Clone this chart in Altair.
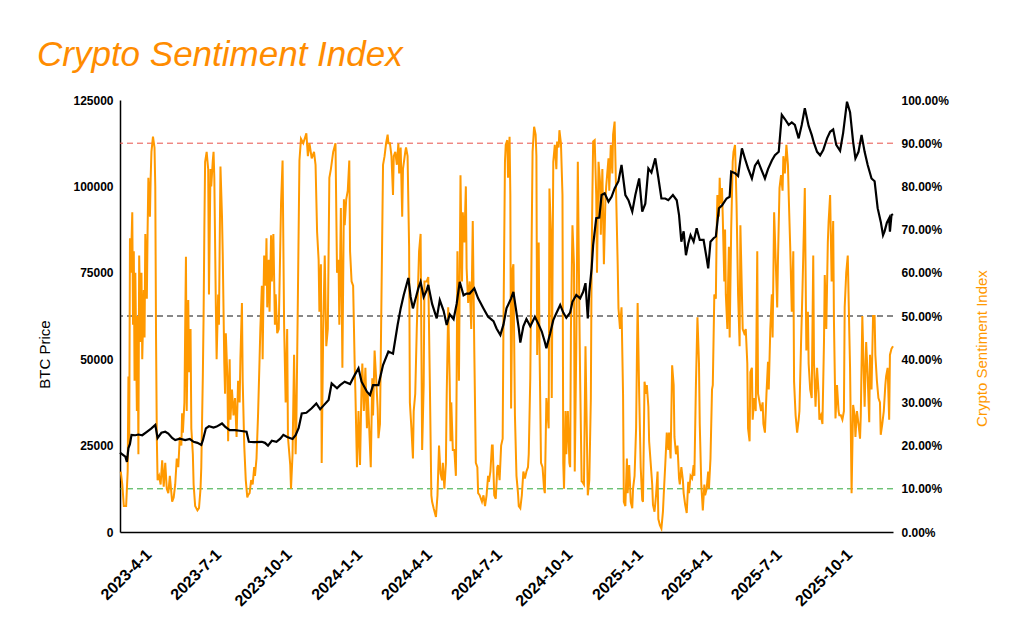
import altair as alt
import pandas as pd
import numpy as np

START = "2023-03-01"

# Crypto sentiment index (days since 2023-03-01, percent)
fg_day = [1,3,5,8,10,11,12,13,14,16,17,18,19,20,22,23,24,25,27,28,29,31,32,33,35,36,37,39,40,41,43,45,46,47,48,49,51,53,55,57,59,61,63,65,67,68,70,72,74,76,78,80,81,82,84,86,87,89,90,92,93,95,96,98,101,103,105,106,108,109,110,111,113,114,115,116,118,119,121,122,123,125,126,128,129,131,133,134,136,137,138,140,141,143,144,146,148,150,152,154,156,157,159,160,162,164,166,167,169,171,173,175,176,178,180,182,183,185,186,187,188,190,191,192,194,195,197,198,
          200,202,203,205,207,210,212,214,216,218,219,222,223,225,227,229,230,232,234,236,239,243,245,247,250,253,255,257,259,260,262,263,265,267,269,271,273,275,278,281,283,285,286,288,290,292,293,295,297,299,300,302,304,306,307,309,311,313,315,316,318,320,322,323,325,327,329,330,332,334,336,337,339,341,343,345,347,349,350,352,354,356,357,359,361,363,364,366,368,369,372,373,375,377,378,380,382,383,385,387,389,390,392,394,396,397,400,402,
          404,406,407,409,412,414,416,418,420,421,423,425,426,428,430,431,432,434,436,438,439,440,442,444,446,447,449,451,452,454,456,458,460,462,464,466,467,469,472,474,476,478,480,481,483,485,486,488,490,492,493,495,497,499,500,502,503,505,506,508,509,510,512,513,515,517,519,520,522,524,526,528,530,532,533,535,537,538,540,542,543,544,546,547,549,551,553,554,556,559,560,562,563,565,567,569,570,572,573,575,577,578,579,581,582,584,586,587,588,590,592,593,595,597,599,600,602,
          603,605,607,609,610,612,614,615,616,617,619,621,622,624,626,627,629,631,633,634,637,638,640,642,643,645,647,649,650,652,654,656,657,659,661,662,664,666,668,669,671,673,674,675,677,679,681,682,684,686,687,689,690,692,694,695,697,699,701,702,704,706,708,709,711,713,715,716,718,720,722,723,725,727,729,730,732,734,735,737,739,741,742,744,746,748,749,751,753,755,756,758,760,762,763,765,767,768,770,772,773,775,777,778,779,781,782,783,785,786,788,789,790,792,793,794,795,797,799,800,802,803,804,
          806,808,809,811,812,814,816,818,819,821,822,824,825,827,829,831,832,834,836,838,839,841,843,845,846,848,850,851,853,855,857,858,860,862,864,865,867,869,871,872,874,876,878,879,881,883,885,886,888,890,892,893,895,897,898,900,902,904,905,907,909,911,912,914,916,918,919,921,923,924,926,928,930,931,933,935,937,938,940,942,944,945,947,949,951,952,954,956,958,959,961,963,965,966,968,970,971,973,975,977,978,980,982,984,985,987,989,991,992,994,996,998,999,1001,1003,1004,1006,1008]
fg_pct = [14,11,6,6,14,36,20,68,60,74,48,65,35,60,28,50,18,64,44,60,40,56,45,69,54,70,82,73,82,88,91.5,89,80,45,22,12,13,11,16.6,10.5,16,10,9,13,9,7,8,11,17,15,22,20,27.5,23,30,63.7,28,53.7,37,47,24,18,11,6,5,5.5,10,15,36,50,70,85.7,88,86,84,55,84,80,86,88,82,52,40,55,48,84.6,73,64,39,32,46,36,21,40,26,33,27,31,22,35,30,40,53,35,20,12,8,8.5,9,12,11,15,13,17,27,40,47,57,40,54,64,57,68,52,63,51,68.7,58,
          69,48,55,46,47,76,86,48,30,47,22,15.5,10,18,41,18,25,55,86,91,90,92.3,87,90,86.5,88,85,69.5,63,51,62,16,47,64,43,47,82,84,88,90,60,63,48,75,38,77,71,77,79,86,65,58,57,39,32,15,28,15.5,34,39,28,38,24,32,24,15,35.6,27,42,35.6,28.6,21.7,25,55,85,87,90,92,90,90,87,78,87,88,85,90,83,89,73,84,88,89,87,66,30,24,17,28,32,47,59,65,69,19,34,58,58,59,
          35,8.5,7,5.5,3.5,8.5,20,13.5,12,16,10,16,31.6,52,34,21,30,19,19,13,35,65,35,82.6,58,74,67,80,61,53,58,47,72,42,16,15,9,8.5,7,8.5,6,8.5,13,11.6,14,20,20,8.5,7.7,15,15.5,12,20,21.6,47,85.7,89.6,90.7,82,91.5,78,28.6,61,62,27,13,9,6,5.5,8.5,14,12.4,14,15,18,35.6,71,88,93.8,92,87,41,67,44,16,15,10,9,31,24,79.5,69,31,85.7,89.6,84,90.4,89,93,90,78,16,10,28,18,28,16,15,47,71,62,14,43,85.7,51,35.6,11.7,
          11.6,11,43,20,8.5,12,31,62.6,78,90.4,90.7,78,60,85.7,81,68.8,84,62,77,80,86.5,79,89.6,83,92,95,78,61.8,51.8,47,52,31.7,7,6,17,9,15.5,7,5.5,10,13,24,39.4,53,32,15,7.4,7,34.8,32,34,29,21,16,11,6.3,4.7,8.5,14,3,1.6,0.8,4.7,8.5,15.5,23,19,23,17,38.6,34,22,18,20,12.4,11,15,12,9,6.3,4.4,11.6,9,13,12.4,15.5,13,34,49.7,39,25,11,5,11,8.5,10,14,10,17,33,34,55,54,68.8,78,73,82,76,79.6,73,58,70,55,47,58,66,45,70,85.7,88,89.6,83,75.7,
          55,43,71,55,47,46,47,39,24,21,37,38,26,31,28,65,32,30,28,30,25,23,32,39.4,33,47,55,45,74,63,52,63,79.6,82.6,79,87,83,89.6,85,78,65.7,51,65,34.8,27,23,26,28,43,56.4,71.8,79.6,42,51,39,33,31,64,39,29,38,32,26,27,25,44,59.5,47,67,71.7,78,58,72,48.7,26.3,34,28,27,27,26,28,52,60,64,46.4,38,9,29.4,27,22,28,25,21.6,27,50,36,29,44,36,25.4,41,33,50,50,41,35,31,30,22.5,25,28,34,36,38,26,41,42.4,43]

# BTC price (days since 2023-03-01, thousand USD)
btc_day = [0,7,9,11,13,15,20,24,29,35,41,46,49,54,59,63,68,72,78,85,91,96,101,106,108,112,116,122,126,133,137,143,150,156,165,168,175,185,189,193,198,204,209,213,218,225,229,233,237,243,250,256,261,265,272,276,283,287,293,300,306,311,315,322,326,330,337,343,350,356,362,366,370,376,379,382,386,389,392,396,400,402,407,413,417,422,426,430,435,439,443,448,452,456,462,467,474,480,487,491,496,500,504,510,513,516,520,522,526,530,535,541,546,550,554,556,561,565,569,574,578,582,587,590,595,600,604,607,610,612,615,617,621,625,628,632,637,641,645,650,654,659,663,668,672,677,681,685,689,693,698,702,706,711,715,721,726,729,732,735,738,741,744,748,752,756,761,765,767,770,774,777,781,785,791,795,797,802,806,811,815,819,824,828,832,837,841,845,850,854,859,863,867,872,876,880,885,889,893,898,902,905,909,913,917,922,926,930,934,939,943,948,952,956,959,963,967,971,975,980,984,988,992,995,997,1000,1003,1004,1006,1008]
btc_k = [23.0,21.8,20.3,24.3,25.5,28.1,28.0,28.2,28.0,29.0,30.0,31.0,27.2,28.7,29.0,28.5,27.2,26.6,27.0,26.6,26.9,26.1,25.8,25.2,26.5,30.0,30.6,30.2,30.5,31.4,30.5,29.5,29.5,29.3,29.0,26.1,26.0,26.1,25.8,25.0,26.4,26.1,27.0,28.1,27.5,26.9,28.0,30.1,34.3,34.5,35.8,37.2,35.5,36.5,38.2,43.0,41.6,42.5,43.5,42.8,45.4,47.4,43.5,40.6,39.6,42.5,42.5,48.3,52.2,51.6,59.9,64.7,68.6,73.5,68.0,64.7,68.0,70.5,72.4,68.0,70.0,71.5,66.0,61.8,67.1,64.0,59.9,63.0,61.6,66.0,72.4,68.5,69.0,69.0,70.5,67.6,64.7,62.3,61.0,58.9,57.0,60.0,64.7,67.6,69.5,65.0,58.9,54.8,59.5,61.6,59.5,62.3,60.0,58.0,55.0,53.2,57.5,61.3,63.3,65.7,63.5,62.0,63.5,66.6,68.6,67.6,69.5,72.0,61.8,69.5,76.3,83.0,90.8,91.0,97.5,98.0,95.6,97.0,99.4,101.5,106.2,97.5,96.0,92.7,97.5,102.3,92.7,95.0,105.2,104.0,108.1,102.5,96.5,96.5,96.0,97.5,96.0,91.7,84.0,87.0,80.1,83.5,85.9,84.0,87.9,84.5,84.5,79.2,76.3,84.0,85.0,85.5,93.7,94.5,96.5,97.0,104.3,103.8,103.0,111.0,108.0,105.2,102.3,106.0,107.3,104.5,102.3,105.0,107.5,109.0,110.0,120.7,119.5,117.8,118.5,117.8,113.9,117.8,122.6,117.5,114.9,112.5,110.0,109.0,110.5,113.9,115.8,116.5,112.0,110.3,115.5,124.5,121.5,112.9,108.1,110.0,114.9,110.0,106.2,102.3,101.5,93.7,89.8,85.9,87.0,89.5,90.8,86.9,91.7,92.0]

# Reference levels
level_names = ["Greed 90%", "Neutral 50%", "Fear 10%"]
level_values = [0.9, 0.5, 0.1]
level_colors = ["#e8514a", "#111111", "#2ea83a"]

x_ticks = [(2023, 4), (2023, 7), (2023, 10), (2024, 1), (2024, 4), (2024, 7),
           (2024, 10), (2025, 1), (2025, 4), (2025, 7), (2025, 10)]
btc_ticks = [0, 25000, 50000, 75000, 100000, 125000]
pct_ticks = [0.0, 0.1, 0.2, 0.3, 0.4, 0.5, 0.6, 0.7, 0.8, 0.9, 1.0]

start = pd.Timestamp(START)
fg_df = pd.DataFrame({
    "date": start + pd.to_timedelta(fg_day, unit="D"),
    "pct": np.array(fg_pct) / 100.0,
})
btc_df = pd.DataFrame({
    "date": start + pd.to_timedelta(btc_day, unit="D"),
    "price": np.array(btc_k) * 1000.0,
})
lvl_df = pd.DataFrame({"name": level_names, "pct": level_values})

FONT = "Liberation Sans"
ORANGE = "#ff9900"

x_enc = alt.X(
    "date:T",
    scale=alt.Scale(nice=False),
    axis=alt.Axis(
        values=[alt.DateTime(year=y, month=m, date=1) for y, m in x_ticks],
        format="%Y-%-m-%-d",
        labelAngle=315,
        labelAlign="right",
        labelBaseline="top",
        labelFontSize=16,
        labelFontWeight="bold",
        labelColor="black",
        labelPadding=14,
        labelOffset=-1,
        ticks=False,
        domainColor="black",
        domainWidth=1.5,
        grid=False,
        title=None,
        labelFont=FONT,
    ),
)

pct_axis = alt.Axis(
    orient="right",
    values=pct_ticks,
    format=".2%",
    domain=False,
    ticks=False,
    grid=False,
    labelFontSize=12,
    labelFontWeight="bold",
    labelColor="black",
    labelPadding=8,
    labelFont=FONT,
    title="Crypto Sentiment Index",
    titleColor=ORANGE,
    titleFontSize=15,
    titleFontWeight="normal",
    titleFont=FONT,
    titleAngle=270,
    titleAlign="center",
    titleBaseline="middle",
    titleX=88,
    titleY=248,
)
pct_scale = alt.Scale(domain=[0, 1], nice=False)

rules = alt.Chart(lvl_df).mark_rule(strokeDash=[6, 4], strokeWidth=1).encode(
    y=alt.Y("pct:Q", scale=pct_scale, axis=pct_axis),
    color=alt.Color("name:N",
                    scale=alt.Scale(domain=level_names, range=level_colors),
                    legend=None),
)

fg_line = alt.Chart(fg_df).mark_line(color=ORANGE, strokeWidth=2).encode(
    x=x_enc,
    y=alt.Y("pct:Q", scale=pct_scale, axis=pct_axis),
)

btc_line = alt.Chart(btc_df).mark_line(color="black", strokeWidth=2.2).encode(
    x=x_enc,
    y=alt.Y(
        "price:Q",
        scale=alt.Scale(domain=[0, 125000], nice=False),
        axis=alt.Axis(
            orient="left",
            values=btc_ticks,
            format="d",
            ticks=False,
            grid=False,
            domainColor="black",
            domainWidth=1.5,
            labelFontSize=12,
            labelFontWeight="bold",
            labelColor="black",
            labelPadding=7,
            labelFont=FONT,
            title="BTC Price",
            titleFontSize=15,
            titleFontWeight="normal",
            titleColor="black",
            titleFont=FONT,
            titleAngle=270,
            titleAlign="center",
            titleBaseline="middle",
            titleX=-76,
            titleY=254,
        ),
    ),
)

right_layer = alt.layer(rules, fg_line)

chart = (
    alt.layer(right_layer, btc_line)
    .resolve_scale(y="independent")
    .properties(
        width=773,
        height=432,
        autosize="none",
        padding={"left": 112, "top": 92, "right": 100, "bottom": 80},
        title=alt.TitleParams(
            text="Crypto Sentiment Index",
            anchor="start",
            frame="group",
            dx=-83,
            offset=21,
            fontSize=35,
            fontStyle="italic",
            fontWeight="normal",
            font=FONT,
            color="#ff8c00",
        ),
    )
    .configure_view(stroke=None)
)

chart.save("out.html", embed_options={"renderer": "svg", "actions": False})
